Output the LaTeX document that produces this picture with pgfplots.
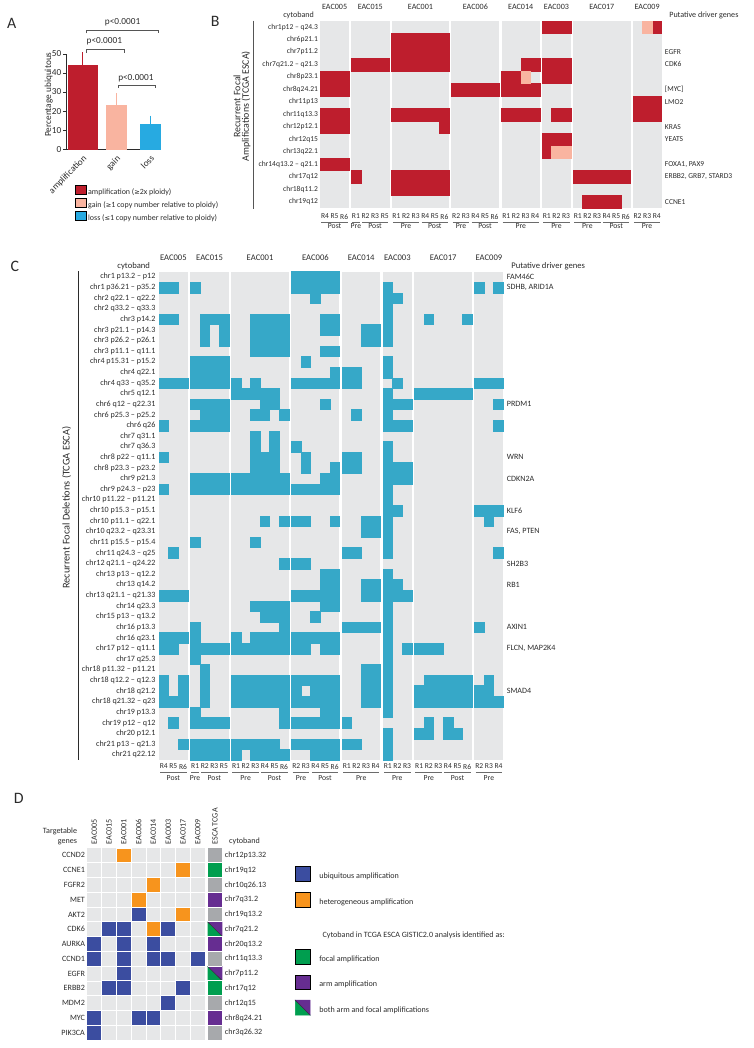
\documentclass[border=0pt]{standalone}
\usepackage{pgfplots}
\pgfplotsset{compat=1.18}
\usepackage{fontspec}
\setmainfont{Carlito}
\newfontfamily\symf{DejaVu Sans}

\definecolor{amp}{HTML}{BE1E2D}
\definecolor{gain}{HTML}{F9B4A0}
\definecolor{loss}{HTML}{27AAE1}
\definecolor{del}{HTML}{36A8C8}
\definecolor{bg}{HTML}{E6E7E8}
\definecolor{ubq}{HTML}{3B4DA0}
\definecolor{het}{HTML}{F7941D}
\definecolor{focal}{HTML}{009E4F}
\definecolor{arm}{HTML}{662D91}
\definecolor{tcga}{HTML}{A7A9AC}
\definecolor{ink}{HTML}{2B2B2B}

\newcommand\fs[1]{\fontsize{#1}{#1}\selectfont}

% one patient block of a heatmap (panels B and C)
\pgfplotsset{
  hm/.style={scale only axis, anchor=north west, y dir=reverse, clip=false,
    axis background/.style={fill=bg}, axis line style={draw=none},
    major tick length=0pt, xmin=0.5, ymin=0.5, ytick=\empty,
    xticklabel pos=lower,
    xticklabel style={font=\fs{5.7}, text=ink, inner sep=0pt, anchor=north, yshift=-\rlY},
    yticklabel style={text=ink},
    title style={text=ink, at={(0.5,1)}, anchor=base, yshift=2.2pt}},
  cell/.style 2 args={only marks, mark=square*, mark size=3.625pt,
    mark options={yscale=#2, fill=#1, draw=#1, line width=0.3pt}},
  dcell/.style={only marks, mark=square*, mark size=5.59pt,
    mark options={fill=#1, draw=white, line width=0.7pt}},
}
% Pre / Post line under regions: from, to, middle, text
\newcommand\pp[4]{%
  \draw[ink!70, line width=0.4pt] ([yshift=-\ulY]axis cs:#1-0.38,\botR) -- ([yshift=-\ulY]axis cs:#2+0.38,\botR);
  \node[font=\fs{5.8}, text=ink] at ([yshift=-\ppY]axis cs:#3,\botR) {#4};}

\begin{document}
\begin{tikzpicture}
\begin{scope}[x=0.75pt, y=-0.75pt]
\path[use as bounding box] (0,0) rectangle (758,1048);
% panel letters
\node[font=\fs{12}, text=ink] at (11.7,16.7) {A};
\node[font=\fs{12}, text=ink] at (216.7,15) {B};
\node[font=\fs{12}, text=ink] at (15,261.7) {C};
\node[font=\fs{12}, text=ink] at (19,796.7) {D};
% B frame text
\node[font=\fs{6.1}, text=ink, anchor=base east] at (320.7,11.1) {cytoband};
\node[font=\fs{6.1}, text=ink, anchor=base west] at (669,11.1) {Putative driver genes};
\draw[ink!80, line width=0.8pt] (255,14) -- (255,203);
\node[font=\fs{7.5}, text=ink, rotate=90, align=center] at (243.5,100)
  {Recurrent Focal\\[-1pt]Amplifications (TCGA ESCA)};
% C frame text
\node[font=\fs{6.5}, text=ink, anchor=base east] at (155.7,263.5) {cytoband};
\node[font=\fs{6.5}, text=ink, anchor=base west] at (510,263.5) {Putative driver genes};
\draw[ink, line width=0.8pt] (78.7,266.4) -- (78.7,758.1);
\node[font=\fs{7.8}, text=ink, rotate=90] at (67,504) {Recurrent Focal Deletions (TCGA ESCA)};
% D frame text
\node[font=\fs{6.1}, text=ink, anchor=base east] at (82.3,832) {Targetable};
\node[font=\fs{6.1}, text=ink, anchor=base east] at (82.3,842.5) {genes};
\node[font=\fs{6.1}, text=ink, anchor=base west] at (226,842.5) {cytoband};
\node[font=\fs{6.1}, text=ink, anchor=west] at (320,935) {Cytoband in TCGA ESCA GISTIC2.0 analysis identified as:};
\end{scope}

% ================= A
\begin{axis}[scale only axis, anchor=south west, at={(50.0pt,-107.5pt)},
  width=71.25pt, height=72pt, xmin=0.52, xmax=3.31, ymin=0, ymax=50,
  axis x line*=bottom, axis y line*=left, axis line style={ink, line width=0.5pt},
  ytick={0,10,...,50}, xtick={1,2,3}, xticklabels={amplification,gain,loss},
  tick align=outside, major tick length=2.5pt,
  xtick style={draw=none}, ytick style={ink, line width=0.5pt},
  tick label style={font=\fs{7}, text=ink},
  yticklabel style={inner sep=1pt},
  xticklabel style={rotate=45, anchor=north east, inner sep=1pt},
  /pgf/number format/assume math mode=true,
  ylabel={Percentage ubiquitous},
  ylabel style={font=\fs{7}, text=ink, at={(axis description cs:-0.186,0.573)}, anchor=center},
  clip=false,
  legend style={at={(0.087,-0.37)}, anchor=north west, draw=none, fill=none,
    inner sep=0pt, row sep=1.1pt, column sep=1.5pt, font=\fs{6}, text=ink,
    nodes={inner sep=0pt}},
  legend cell align=left,
  legend image code/.code={\fill[#1] (0pt,-1.2pt) rectangle (8.25pt,5.55pt);},
]
\addplot[ybar, bar width=0.86, bar shift=0pt, fill=amp, draw=amp, forget plot,
  error bars/.cd, y dir=plus, y explicit,
  error bar style={draw=amp, line width=0.8pt},
  error mark options={draw=amp, mark size=3pt, line width=0.8pt}]
  coordinates {(1,44.2) +- (0,4.6)};
\addplot[ybar, bar width=0.61, bar shift=0pt, fill=gain, draw=gain, forget plot,
  error bars/.cd, y dir=plus, y explicit,
  error bar style={draw=gain, line width=0.8pt},
  error mark options={draw=gain, mark size=3pt, line width=0.8pt}]
  coordinates {(2,23.1) +- (0,4.1)};
\addplot[ybar, bar width=0.61, bar shift=0pt, fill=loss, draw=loss, forget plot,
  error bars/.cd, y dir=plus, y explicit,
  error bar style={draw=loss, line width=0.8pt},
  error mark options={draw=loss, mark size=3pt, line width=0.8pt}]
  coordinates {(3,13.0) +- (0,2.6)};
\addlegendimage{fill=amp}\addlegendentry{amplification ({\symf\fs{5}≥}2x ploidy)}
\addlegendimage{fill=gain}\addlegendentry{gain ({\symf\fs{5}≥}1 copy number relative to ploidy)}
\addlegendimage{fill=loss}\addlegendentry{loss ({\symf\fs{5}≤}1 copy number relative to ploidy)}
% significance brackets
\draw[ink!80, line width=0.5pt] (axis cs:1.126,60.7) |- (axis cs:3.244,62.5) -- (axis cs:3.244,60.7);
\node[font=\fs{7}, text=ink] at (axis cs:2.185,66.4) {p<0.0001};
\draw[ink!80, line width=0.5pt] (axis cs:1.126,50.7) |- (axis cs:2.235,52.6) -- (axis cs:2.235,50.7);
\node[font=\fs{7}, text=ink] at (axis cs:1.647,56.4) {p<0.0001};
\draw[ink!80, line width=0.5pt] (axis cs:2.059,32.1) |- (axis cs:3.168,33.5) -- (axis cs:3.168,32.1);
\node[font=\fs{7}, text=ink] at (axis cs:2.58,37.3) {p<0.0001};
\end{axis}

% ================= B  (recurrent focal amplifications)
\def\botR{15.5}\def\ulY{10.5pt}\def\ppY{13.7pt}\def\rlY{4.2pt}
\pgfplotsset{hmB/.style={hm, height=141.5pt, ymax=15.5, title style={font=\fs{6.1}}}}
\begin{axis}[hmB, at={(241.7pt,-10.5pt)}, width=21.75pt, xmax=3.5, title=EAC005,
  xtick={1,2,3}, xticklabels={R4,R5,R6},
  ytick={1,...,15},
  yticklabels={chr1p12 – q24.3, chr6p21.1, chr7p11.2, chr7q21.2 – q21.3, chr8p23.1,
    chr8q24.21, chr11p13, chr11q13.3, chr12p12.1, chr12q15, chr13q22.1,
    chr14q13.2 – q21.1, chr17q12, chr18q11.2, chr19q12},
  yticklabel style={font=\fs{5.7}, anchor=east, inner sep=0pt, xshift=-1.5pt}]
\addplot[cell={amp}{1.301}] coordinates {(1,5)(2,5)(3,5)(1,6)(2,6)(3,6)(1,8)(2,8)(3,8)
  (1,9)(2,9)(3,9)(1,12)(2,12)(3,12)};
\pp{1}{3}{2}{Post}
\end{axis}
\begin{axis}[hmB, at={(265.05pt,-10.5pt)}, width=29pt, xmax=4.5, title=EAC015,
  xtick={1,2,3,4}, xticklabels={R1,R2,R3,R5}]
\addplot[cell={amp}{1.301}] coordinates {(1,4)(2,4)(3,4)(4,4)(1,13)};
\pp{1}{1}{1}{Pre}\pp{2}{4}{3}{Post}
\end{axis}
\begin{axis}[hmB, at={(295.65pt,-10.5pt)}, width=43.5pt, xmax=6.5, title=EAC001,
  xtick={1,...,6}, xticklabels={R1,R2,R3,R4,R5,R6}]
\addplot[cell={amp}{1.301}] coordinates {(1,2)(2,2)(3,2)(4,2)(5,2)(6,2)
  (1,3)(2,3)(3,3)(4,3)(5,3)(6,3)(1,4)(2,4)(3,4)(4,4)(5,4)(6,4)
  (1,8)(2,8)(3,8)(4,8)(5,8)(6,8)(6,9)
  (1,13)(2,13)(3,13)(4,13)(5,13)(6,13)(1,14)(2,14)(3,14)(4,14)(5,14)(6,14)};
\pp{1}{3}{2}{Pre}\pp{4}{6}{5}{Post}
\end{axis}
\begin{axis}[hmB, at={(340.75pt,-10.5pt)}, width=36.25pt, xmax=5.5, title=EAC006,
  xtick={1,...,5}, xticklabels={R2,R3,R4,R5,R6}]
\addplot[cell={amp}{1.301}] coordinates {(1,6)(2,6)(3,6)(4,6)(5,6)};
\pp{1}{2}{1.5}{Pre}\pp{3}{5}{4}{Post}
\end{axis}
\begin{axis}[hmB, at={(378.6pt,-10.5pt)}, width=29pt, xmax=4.5, title=EAC014,
  xtick={1,...,4}, xticklabels={R1,R2,R3,R4}]
\addplot[cell={amp}{1.301}] coordinates {(3,4)(4,4)(1,5)(2,5)(1,6)(2,6)(3,6)(4,6)
  (1,8)(2,8)(3,8)(4,8)};
\addplot[cell={gain}{1.301}] coordinates {(3,5)};
\pp{1}{4}{2.5}{Pre}
\end{axis}
\begin{axis}[hmB, at={(409.2pt,-10.5pt)}, width=21.75pt, xmax=3.5, title=EAC003,
  xtick={1,2,3}, xticklabels={R1,R2,R3}]
\addplot[cell={amp}{1.301}] coordinates {(1,1)(2,1)(3,1)(1,4)(2,4)(3,4)(1,5)(2,5)(3,5)
  (2,8)(3,8)(1,10)(2,10)(3,10)(1,11)};
\addplot[cell={gain}{1.301}] coordinates {(2,11)(3,11)};
\pp{1}{3}{2}{Pre}
\end{axis}
\begin{axis}[hmB, at={(432.55pt,-10.5pt)}, width=43.5pt, xmax=6.5, title=EAC017,
  xtick={1,...,6}, xticklabels={R1,R2,R3,R4,R5,R6}]
\addplot[cell={amp}{1.301}] coordinates {(1,13)(2,13)(3,13)(4,13)(5,13)(6,13)
  (2,15)(3,15)(4,15)(5,15)};
\pp{1}{3}{2}{Pre}\pp{4}{6}{5}{Post}
\end{axis}
\begin{axis}[hmB, at={(477.65pt,-10.5pt)}, width=21.75pt, xmax=3.5, title=EAC009,
  xtick={1,2,3}, xticklabels={R2,R3,R4},
  ytick={3,4,6,7,9,10,12,13,15},
  yticklabels={EGFR,CDK6,{[MYC]},LMO2,KRAS,YEATS,{FOXA1, PAX9},{ERBB2, GRB7, STARD3},CCNE1},
  yticklabel pos=right,
  yticklabel style={font=\fs{5.7}, anchor=west, inner sep=0pt, xshift=2.4pt}]
\addplot[cell={amp}{1.301}] coordinates {(3,1)(1,7)(2,7)(3,7)(1,8)(2,8)(3,8)};
\addplot[cell={gain}{1.301}] coordinates {(2,1)};
\pp{1}{3}{2}{Pre}
\end{axis}

% ================= C  (recurrent focal deletions)
\def\botR{46.5}\def\ulY{8.9pt}\def\ppY{13.95pt}\def\rlY{2.8pt}
\pgfplotsset{hmC/.style={hm, height=368.8pt, ymax=46.5, title style={font=\fs{6.5}}}}
\begin{axis}[hmC, at={(120pt,-199.8pt)}, width=21.75pt, xmax=3.5, title=EAC005,
  xtick={1,2,3}, xticklabels={R4,R5,R6},
  ytick={1,...,46},
  yticklabels={chr1 p13.2 – p12, chr1 p36.21 – p35.2, chr2 q22.1 – q22.2, chr2 q33.2 – q33.3,
    chr3 p14.2, chr3 p21.1 – p14.3, chr3 p26.2 – p26.1, chr3 p11.1 – q11.1,
    chr4 p15.31 – p15.2, chr4 q22.1, chr4 q33 – q35.2, chr5 q12.1, chr6 q12 – q22.31,
    chr6 p25.3 – p25.2, chr6 q26, chr7 q31.1, chr7 q36.3, chr8 p22 – q11.1,
    chr8 p23.3 – p23.2, chr9 p21.3, chr9 p24.3 – p23, chr10 p11.22 – p11.21,
    chr10 p15.3 – p15.1, chr10 p11.1 – q22.1, chr10 q23.2 – q23.31, chr11 p15.5 – p15.4,
    chr11 q24.3 – q25, chr12 q21.1 – q24.22, chr13 p13 – q12.2, chr13 q14.2,
    chr13 q21.1 – q21.33, chr14 q23.3, chr15 p13 – q13.2, chr16 p13.3, chr16 q23.1,
    chr17 p12 – q11.1, chr17 q25.3, chr18 p11.32 – p11.21, chr18 q12.2 – q12.3,
    chr18 q21.2, chr18 q21.32 – q23, chr19 p13.3, chr19 p12 – q12, chr20 p12.1,
    chr21 p13 – q21.3, chr21 q22.12},
  yticklabel style={font=\fs{6.1}, anchor=east, inner sep=0pt, xshift=-2.5pt}]
\addplot[cell={del}{1.106}] coordinates {(1,2)(2,2)(1,5)(2,5)(1,11)(2,11)(3,11)(1,15)(1,18)
  (1,21)(2,27)(1,31)(2,31)(3,31)(1,35)(2,35)(3,35)(1,36)(2,36)(1,39)(3,39)(1,40)(3,40)
  (1,41)(2,41)(3,41)(2,43)(3,45)};
\pp{1}{3}{2}{Post}
\end{axis}
\begin{axis}[hmC, at={(143.67pt,-199.8pt)}, width=29pt, xmax=4.5, title=EAC015,
  xtick={1,2,3,4}, xticklabels={R1,R2,R3,R5}]
\addplot[cell={del}{1.106}] coordinates {(1,2)(2,5)(3,5)(4,5)(2,6)(4,6)(2,7)(4,7)
  (1,9)(2,9)(3,9)(4,9)(1,10)(2,10)(3,10)(4,10)(1,11)(2,11)(3,11)(4,11)
  (1,13)(2,13)(3,13)(4,13)(2,14)(3,14)(4,14)(1,15)(2,15)(3,15)(4,15)
  (1,20)(2,20)(3,20)(4,20)(1,21)(2,21)(3,21)(4,21)
  (1,26)(1,34)(1,35)(1,36)(2,36)(3,36)(4,36)(1,37)
  (2,38)(2,39)(2,40)(2,41)(1,42)(1,43)(2,43)(3,43)(4,43)
  (1,45)(2,45)(3,45)(4,45)(1,46)(2,46)(3,46)(4,46)};
\pp{1}{1}{1}{Pre}\pp{2}{4}{3}{Post}
\end{axis}
\begin{axis}[hmC, at={(174.59pt,-199.8pt)}, width=43.5pt, xmax=6.5, title=EAC001,
  xtick={1,...,6}, xticklabels={R1,R2,R3,R4,R5,R6}]
\addplot[cell={del}{1.106}] coordinates {(3,5)(4,5)(5,5)(6,5)(3,6)(4,6)(5,6)(6,6)
  (3,7)(4,7)(5,7)(6,7)(3,8)(4,8)(5,8)(6,8)
  (1,11)(3,11)(1,12)(2,12)(3,12)(4,12)(5,12)(4,13)(5,13)(3,14)(4,14)(6,14)
  (3,16)(5,16)(3,17)(5,17)(3,18)(4,18)(5,18)(3,19)(4,19)(5,19)
  (1,20)(2,20)(3,20)(4,20)(5,20)(6,20)(1,21)(2,21)(3,21)(4,21)(5,21)(6,21)
  (4,24)(6,24)(3,26)(6,28)
  (3,32)(4,32)(5,32)(6,32)(4,33)(5,33)(6,33)(6,34)
  (1,35)(3,35)(4,35)(5,35)(6,35)(1,36)(2,36)(3,36)(4,36)(5,36)(6,36)
  (1,39)(2,39)(3,39)(4,39)(5,39)(6,39)(1,40)(2,40)(3,40)(4,40)(5,40)(6,40)
  (1,41)(2,41)(3,41)(4,41)(5,41)(6,41)(6,42)(6,43)
  (1,45)(2,45)(3,45)(4,45)(5,45)(1,46)(3,46)(4,46)(5,46)(6,46)};
\pp{1}{3}{2}{Pre}\pp{4}{6}{5}{Post}
\end{axis}
\begin{axis}[hmC, at={(220.01pt,-199.8pt)}, width=36.25pt, xmax=5.5, title=EAC006,
  xtick={1,...,5}, xticklabels={R2,R3,R4,R5,R6}]
\addplot[cell={del}{1.106}] coordinates {(1,1)(2,1)(3,1)(4,1)(5,1)(1,2)(2,2)(3,2)(4,2)(5,2)
  (3,3)(4,5)(5,5)(4,6)(5,6)(4,8)(5,8)(2,9)(5,10)(1,11)(2,11)(3,11)(4,11)(5,11)(4,13)
  (1,17)(2,18)(2,19)(5,19)(4,20)(5,20)(1,21)(2,21)(3,21)(4,21)(5,21)
  (1,24)(2,24)(5,24)(1,28)(2,28)(4,29)(5,29)(4,30)(5,30)
  (1,31)(2,31)(3,31)(4,31)(5,31)(4,32)(5,32)(3,33)
  (1,35)(2,35)(3,35)(4,35)(5,35)(1,36)(2,36)(4,36)(5,36)
  (1,39)(2,39)(3,39)(4,39)(5,39)(1,40)(3,40)(4,40)(5,40)(1,41)(2,41)(3,41)(4,41)(5,41)
  (4,42)(5,42)(1,43)(2,43)(3,43)(4,43)(5,43)(1,45)(2,45)(3,45)(4,45)(5,45)
  (3,46)(4,46)(5,46)};
\pp{1}{2}{1.5}{Pre}\pp{3}{5}{4}{Post}
\end{axis}
\begin{axis}[hmC, at={(258.18pt,-199.8pt)}, width=29pt, xmax=4.5, title=EAC014,
  xtick={1,...,4}, xticklabels={R1,R2,R3,R4}]
\addplot[cell={del}{1.106}] coordinates {(3,6)(4,6)(3,7)(4,7)(1,10)(2,10)(1,11)(2,11)(2,14)
  (1,18)(2,18)(1,19)(2,19)(3,24)(4,24)(3,25)(4,25)(1,27)(2,27)(3,30)(4,30)(3,31)(4,31)
  (1,34)(2,34)(3,34)(4,34)(3,38)(4,38)(3,39)(4,39)(3,40)(4,40)(3,41)(4,41)
  (1,43)(1,45)(2,45)};
\pp{1}{4}{2.5}{Pre}
\end{axis}
\begin{axis}[hmC, at={(289.1pt,-199.8pt)}, width=21.75pt, xmax=3.5, title=EAC003,
  xtick={1,2,3}, xticklabels={R1,R2,R3}]
\addplot[cell={del}{1.106}] coordinates {(1,2)(1,3)(2,3)(1,4)(1,5)(1,6)(1,7)(1,9)(1,10)(2,11)
  (1,12)(1,13)(2,13)(3,13)(1,14)(1,15)(2,15)(3,15)
  (1,17)(1,18)(1,19)(2,19)(3,19)(1,20)(2,20)(3,20)(1,21)(1,22)(1,23)(2,23)
  (1,24)(1,25)(1,26)(1,27)(1,29)(1,30)(2,30)(1,31)(2,31)(3,31)
  (1,32)(1,33)(1,34)(1,35)(1,36)(3,36)(1,37)(1,38)(1,39)(1,40)(1,41)(1,42)
  (1,44)(1,45)(1,46)};
\pp{1}{3}{2}{Pre}
\end{axis}
\begin{axis}[hmC, at={(312.77pt,-199.8pt)}, width=43.5pt, xmax=6.5, title=EAC017,
  xtick={1,...,6}, xticklabels={R1,R2,R3,R4,R5,R6}]
\addplot[cell={del}{1.106}] coordinates {(2,5)(6,5)(1,12)(2,12)(3,12)(4,12)(5,12)(6,12)
  (1,36)(2,36)(3,36)(2,39)(3,39)(4,39)(5,39)(6,39)
  (1,40)(2,40)(3,40)(4,40)(5,40)(6,40)(1,41)(2,41)(3,41)(4,41)(5,41)(6,41)
  (2,43)(4,43)(1,44)(2,44)(4,44)(5,44)};
\pp{1}{3}{2}{Pre}\pp{4}{6}{5}{Post}
\end{axis}
\begin{axis}[hmC, at={(358.19pt,-199.8pt)}, width=21.75pt, xmax=3.5, title=EAC009,
  xtick={1,2,3}, xticklabels={R2,R3,R4},
  ytick={1,2,13,18,20,23,25,28,30,34,36,40},
  yticklabels={FAM46C,{SDHB, ARID1A},PRDM1,WRN,CDKN2A,KLF6,{FAS, PTEN},SH2B3,RB1,AXIN1,
    {FLCN, MAP2K4},SMAD4},
  yticklabel pos=right,
  yticklabel style={font=\fs{6.1}, anchor=west, inner sep=0pt, xshift=2.5pt}]
\addplot[cell={del}{1.106}] coordinates {(1,2)(3,2)(1,11)(2,11)(3,11)(3,13)(3,15)
  (1,23)(2,23)(3,23)(2,24)(3,27)(1,34)(2,39)(1,40)(2,40)(1,41)(2,41)(3,41)};
\pp{1}{3}{2}{Pre}
\end{axis}

% ================= D  (targetable genes)
\begin{axis}[scale only axis, anchor=north west, at={(65.5pt,-635pt)},
  width=89.4pt, height=145pt, y dir=reverse, xmin=0.5, xmax=8.5, ymin=0.5, ymax=13.5,
  axis background/.style={fill=bg}, axis line style={draw=none}, clip=false,
  major tick length=0pt,
  xtick={1,...,8}, xticklabels={EAC005,EAC015,EAC001,EAC006,EAC014,EAC003,EAC017,EAC009},
  xticklabel pos=upper,
  xticklabel style={rotate=90, anchor=west, inner sep=2.5pt, font=\fs{6.1}, text=ink},
  ytick={1,...,13},
  yticklabels={CCND2,CCNE1,FGFR2,MET,AKT2,CDK6,AURKA,CCND1,EGFR,ERBB2,MDM2,MYC,PIK3CA},
  yticklabel style={anchor=east, inner sep=0pt, xshift=-1.2pt, font=\fs{6.1}, text=ink}]
\pgfplotsinvokeforeach{1.5,2.5,...,7.5}{\draw[white, line width=0.7pt] (axis cs:#1,0.5) -- (axis cs:#1,13.5);}
\pgfplotsinvokeforeach{1.5,2.5,...,12.5}{\draw[white, line width=0.7pt] (axis cs:0.5,#1) -- (axis cs:8.5,#1);}
\addplot[dcell=ubq] coordinates {(4,5)(2,6)(3,6)(6,6)(1,7)(3,7)(5,7)(1,8)(3,8)(5,8)(6,8)(8,8)
  (3,9)(2,10)(3,10)(7,10)(6,11)(1,12)(4,12)(5,12)(1,13)};
\addplot[dcell=het] coordinates {(3,1)(7,2)(5,3)(4,4)(7,5)(5,6)};
\end{axis}
\begin{axis}[scale only axis, anchor=north west, at={(156.75pt,-635pt)},
  width=11.175pt, height=145pt, y dir=reverse, xmin=0.5, xmax=1.5, ymin=0.5, ymax=13.5,
  axis background/.style={fill=tcga}, axis line style={draw=none}, clip=false,
  major tick length=0pt,
  xtick={1}, xticklabels={ESCA TCGA}, xticklabel pos=upper,
  xticklabel style={rotate=90, anchor=west, inner sep=2.5pt, font=\fs{6.1}, text=ink},
  ytick={1,...,13}, yticklabel pos=right,
  yticklabels={chr12p13.32,chr19q12,chr10q26.13,chr7q31.2,chr19q13.2,chr7q21.2,chr20q13.2,
    chr11q13.3,chr7p11.2,chr17q12,chr12q15,chr8q24.21,chr3q26.32},
  yticklabel style={anchor=west, inner sep=0pt, xshift=1.7pt, font=\fs{6.1}, text=ink}]
\addplot[fill=focal, draw=none] coordinates {(0.5,5.5) (0.5,6.5) (1.5,6.5)} -- cycle;
\addplot[fill=arm, draw=none] coordinates {(0.5,5.5) (1.5,5.5) (1.5,6.5)} -- cycle;
\addplot[ink, line width=0.3pt] coordinates {(0.5,5.5) (1.5,6.5)};
\addplot[fill=focal, draw=none] coordinates {(0.5,8.5) (0.5,9.5) (1.5,9.5)} -- cycle;
\addplot[fill=arm, draw=none] coordinates {(0.5,8.5) (1.5,8.5) (1.5,9.5)} -- cycle;
\addplot[ink, line width=0.3pt] coordinates {(0.5,8.5) (1.5,9.5)};
\pgfplotsinvokeforeach{1.5,2.5,...,12.5}{\draw[white, line width=0.7pt] (axis cs:0.5,#1) -- (axis cs:1.5,#1);}
\addplot[dcell=focal] coordinates {(1,2)(1,10)};
\addplot[dcell=arm] coordinates {(1,4)(1,7)(1,12)};
\end{axis}
% D legends
\begin{axis}[hide axis, scale only axis, width=1pt, height=1pt, anchor=north west,
  at={(222.5pt,-648.75pt)}, xmin=0, xmax=1, ymin=0, ymax=1,
  legend style={at={(0,1)}, anchor=north west, draw=none, fill=none, inner sep=0pt,
    row sep=7.5pt, column sep=6.75pt, font=\fs{6.1}, text=ink, nodes={inner sep=0pt}},
  legend cell align=left,
  legend image code/.code={\fill[#1] (0pt,-3.6pt) rectangle (11.25pt,7.65pt);}]
\addlegendimage{fill=ubq}\addlegendentry{ubiquitous amplification}
\addlegendimage{fill=het}\addlegendentry{heterogeneous amplification}
\end{axis}
\begin{axis}[hide axis, scale only axis, width=1pt, height=1pt, anchor=north west,
  at={(222.5pt,-711.2pt)}, xmin=0, xmax=1, ymin=0, ymax=1,
  legend style={at={(0,1)}, anchor=north west, draw=none, fill=none, inner sep=0pt,
    row sep=7.5pt, column sep=6.75pt, font=\fs{6.1}, text=ink, nodes={inner sep=0pt}},
  legend cell align=left,
  legend image code/.code={\fill[#1] (0pt,-3.6pt) rectangle (11.25pt,7.65pt);}]
\addlegendimage{fill=focal}\addlegendentry{focal amplification}
\addlegendimage{fill=arm}\addlegendentry{arm amplification}
\addlegendimage{legend image code/.code={
  \fill[focal] (0pt,7.65pt) -- (0pt,-3.6pt) -- (11.25pt,-3.6pt) -- cycle;
  \fill[arm] (0pt,7.65pt) -- (11.25pt,7.65pt) -- (11.25pt,-3.6pt) -- cycle;
  \draw[ink, line width=0.3pt] (0pt,7.65pt) -- (11.25pt,-3.6pt);}}
\addlegendentry{both arm and focal amplifications}
\end{axis}
\end{tikzpicture}
\end{document}
